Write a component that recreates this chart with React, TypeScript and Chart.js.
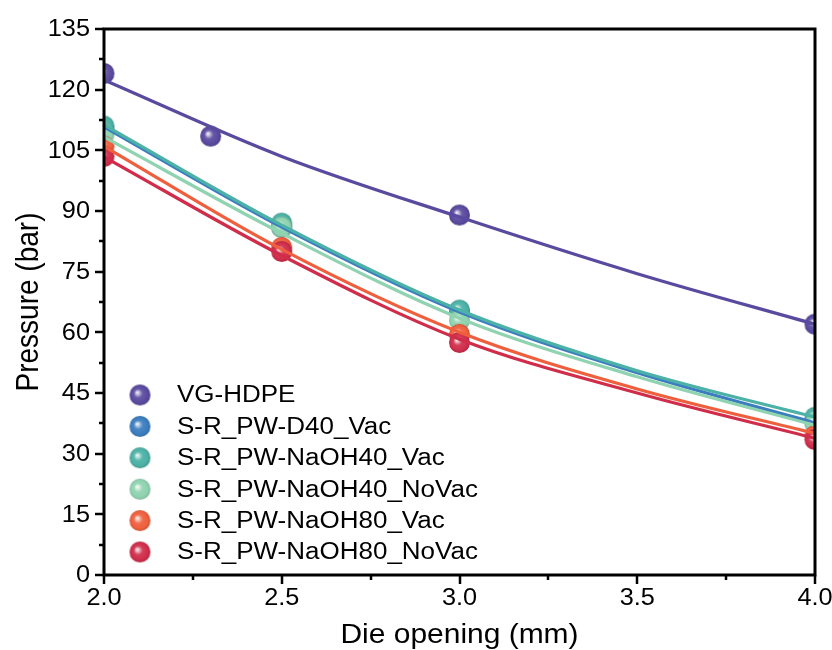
import React, { useEffect, useRef } from "react";
import { Chart, registerables } from "chart.js";

Chart.register(...registerables);

// Series names and colours (legend order)
const seriesNames = [
  "VG-HDPE",
  "S-R_PW-D40_Vac",
  "S-R_PW-NaOH40_Vac",
  "S-R_PW-NaOH40_NoVac",
  "S-R_PW-NaOH80_Vac",
  "S-R_PW-NaOH80_NoVac",
];
const seriesColors = ["#5a4a9f", "#3b7dbf", "#4cb1a6", "#8fd3b0", "#ef5f3d", "#d02d4b"];

// Measured pressures (bar) against die opening (mm)
const vgX = [2.0, 2.3, 3.0, 4.0];
const vgY = [124, 108.5, 89, 62];
const srX = [2.0, 2.5, 3.0, 4.0];
const d40VacY = [110, 86, 65, 38];
const naoh40VacY = [111, 87, 65.5, 39];
const naoh40NoVacY = [109, 86, 63, 37.5];
const naoh80VacY = [106, 81, 59.5, 34.5];
const naoh80NoVacY = [103.5, 80, 57.5, 33.5];

// Fitted curves, sampled along the die opening
const fitX = [2.0, 2.5, 3.0, 3.5, 4.0];
const vgFitY = [122.4, 103.5, 88.5, 74.5, 62];
const d40VacFitY = [110.8, 86, 65, 50, 37.6];
const naoh40VacFitY = [111.3, 86.5, 65.5, 50.5, 39];
const naoh40NoVacFitY = [108.3, 84.5, 63.5, 49, 37];
const naoh80VacFitY = [106, 80.5, 60, 46, 35];
const naoh80NoVacFitY = [103.4, 79, 58.3, 45, 33.8];

// Axis ticks
const xTicks = [2.0, 2.5, 3.0, 3.5, 4.0];
const xMinorTicks = [2.25, 2.75, 3.25, 3.75];
const yTicks = [0, 15, 30, 45, 60, 75, 90, 105, 120, 135];
const yMinorTicks = [7.5, 22.5, 37.5, 52.5, 67.5, 82.5, 97.5, 112.5, 127.5];

const pointXs = [vgX, srX, srX, srX, srX, srX];
const pointYs = [vgY, d40VacY, naoh40VacY, naoh40NoVacY, naoh80VacY, naoh80NoVacY];
const fitYs = [vgFitY, d40VacFitY, naoh40VacFitY, naoh40NoVacFitY, naoh80VacFitY, naoh80NoVacFitY];

const FONT = "'Liberation Sans', Arial, Helvetica, sans-serif";
const STRETCH = 1.1;
const BALL_R = 10.5;

function hexToRgb(hex: string): [number, number, number] {
  const h = hex.replace("#", "");
  return [parseInt(h.slice(0, 2), 16), parseInt(h.slice(2, 4), 16), parseInt(h.slice(4, 6), 16)];
}
function mix(hex: string, target: number, t: number): string {
  const [r, g, b] = hexToRgb(hex);
  const f = (c: number) => Math.round(c + (target - c) * t);
  return `rgb(${f(r)},${f(g)},${f(b)})`;
}

// Glossy ball marker
function makeSphere(color: string, r: number): HTMLCanvasElement {
  const size = Math.ceil(2 * r + 2);
  const c = document.createElement("canvas");
  c.width = size;
  c.height = size;
  const ctx = c.getContext("2d")!;
  const cx = size / 2;
  const cy = size / 2;
  const g = ctx.createRadialGradient(cx - 0.28 * r, cy - 0.25 * r, 0, cx, cy, r);
  g.addColorStop(0, "#ffffff");
  g.addColorStop(0.14, mix(color, 255, 0.7));
  g.addColorStop(0.42, mix(color, 255, 0.08));
  g.addColorStop(0.8, color);
  g.addColorStop(1, mix(color, 0, 0.15));
  ctx.fillStyle = g;
  ctx.beginPath();
  ctx.arc(cx, cy, r, 0, Math.PI * 2);
  ctx.fill();
  return c;
}

function stretchedText(ctx: CanvasRenderingContext2D, text: string, x: number, y: number, sx = STRETCH) {
  ctx.save();
  ctx.translate(x, y);
  ctx.scale(sx, 1);
  ctx.fillText(text, 0, 0);
  ctx.restore();
}

export default function App() {
  const canvasRef = useRef<HTMLCanvasElement | null>(null);

  useEffect(() => {
    const canvas = canvasRef.current;
    if (!canvas) return;
    const spheres = seriesColors.map((c) => makeSphere(c, BALL_R));

    const pointSets = seriesNames.map((name, i) => ({
      label: name,
      data: pointXs[i].map((x, k) => ({ x, y: pointYs[i][k] })),
      showLine: false,
      pointStyle: spheres[i],
      pointRadius: BALL_R,
      pointHoverRadius: BALL_R,
      backgroundColor: seriesColors[i],
      borderColor: seriesColors[i],
      order: 20 - i,
    }));
    const fitSets = seriesNames.map((name, i) => ({
      label: name + " fit",
      data: fitX.map((x, k) => ({ x, y: fitYs[i][k] })),
      showLine: true,
      borderColor: seriesColors[i],
      borderWidth: 3.2,
      pointRadius: 0,
      pointHoverRadius: 0,
      cubicInterpolationMode: "monotone" as const,
      fill: false,
      order: 10 - i,
    }));

    const framePlugin = {
      id: "frameAxes",
      afterDraw(chart: any) {
        const ctx: CanvasRenderingContext2D = chart.ctx;
        const { left, right, top, bottom } = chart.chartArea;
        const xs = chart.scales.x;
        const ys = chart.scales.y;
        ctx.save();
        ctx.strokeStyle = "#000";
        ctx.lineWidth = 3;
        ctx.strokeRect(left, top, right - left, bottom - top);

        ctx.lineWidth = 2.5;
        ctx.beginPath();
        yTicks.forEach((v) => {
          const p = Math.round(ys.getPixelForValue(v));
          ctx.moveTo(left - 9, p);
          ctx.lineTo(left, p);
        });
        yMinorTicks.forEach((v) => {
          const p = Math.round(ys.getPixelForValue(v));
          ctx.moveTo(left - 5, p);
          ctx.lineTo(left, p);
        });
        xTicks.forEach((v) => {
          const p = Math.round(xs.getPixelForValue(v));
          ctx.moveTo(p, bottom);
          ctx.lineTo(p, bottom + 9);
        });
        xMinorTicks.forEach((v) => {
          const p = Math.round(xs.getPixelForValue(v));
          ctx.moveTo(p, bottom);
          ctx.lineTo(p, bottom + 5);
        });
        ctx.stroke();

        ctx.fillStyle = "#000";
        ctx.font = `23px ${FONT}`;
        ctx.textAlign = "right";
        ctx.textBaseline = "middle";
        yTicks.forEach((v) => {
          const p = ys.getPixelForValue(v);
          ctx.save();
          ctx.translate(left - 14, p + 1);
          ctx.scale(STRETCH, 1);
          ctx.fillText(String(v), 0, 0);
          ctx.restore();
        });
        ctx.textAlign = "center";
        ctx.textBaseline = "top";
        xTicks.forEach((v) => {
          stretchedText(ctx, v.toFixed(1), xs.getPixelForValue(v), bottom + 12);
        });

        // Axis titles
        ctx.font = `28px ${FONT}`;
        ctx.textAlign = "center";
        ctx.textBaseline = "middle";
        stretchedText(ctx, "Die opening (mm)", (left + right) / 2, 635, 1.07);
        ctx.save();
        ctx.translate(30, (top + bottom) / 2);
        ctx.rotate(-Math.PI / 2);
        ctx.scale(1, STRETCH);
        ctx.fillText("Pressure (bar)", 0, 0);
        ctx.restore();

        // Legend
        ctx.font = `23px ${FONT}`;
        ctx.textAlign = "left";
        ctx.textBaseline = "middle";
        seriesNames.forEach((name, i) => {
          const y = 395 + i * 31.4;
          const s = spheres[i];
          ctx.drawImage(s, 140 - s.width / 2, y - s.height / 2);
          stretchedText(ctx, name, 177, y + 1, 1.13);
        });
        ctx.restore();
      },
    };

    const chart = new Chart(canvas, {
      type: "scatter",
      data: { datasets: [...fitSets, ...pointSets] as any },
      options: {
        responsive: false,
        animation: false,
        devicePixelRatio: 1,
        layout: { padding: { left: 0, top: 29, right: 17, bottom: 0 } },
        plugins: { legend: { display: false }, tooltip: { enabled: false } },
        scales: {
          x: {
            type: "linear",
            min: 2,
            max: 4,
            ticks: { display: false },
            grid: { display: false },
            border: { display: false },
            afterFit: (scale: any) => {
              scale.height = 75;
            },
          },
          y: {
            type: "linear",
            min: 0,
            max: 135,
            ticks: { display: false },
            grid: { display: false },
            border: { display: false },
            afterFit: (scale: any) => {
              scale.width = 104;
            },
          },
        },
      },
      plugins: [framePlugin],
    });

    return () => chart.destroy();
  }, []);

  return (
    <div style={{ position: "fixed", left: 0, top: 0, width: 832, height: 650, background: "#fff" }}>
      <canvas ref={canvasRef} width={832} height={650} />
    </div>
  );
}
